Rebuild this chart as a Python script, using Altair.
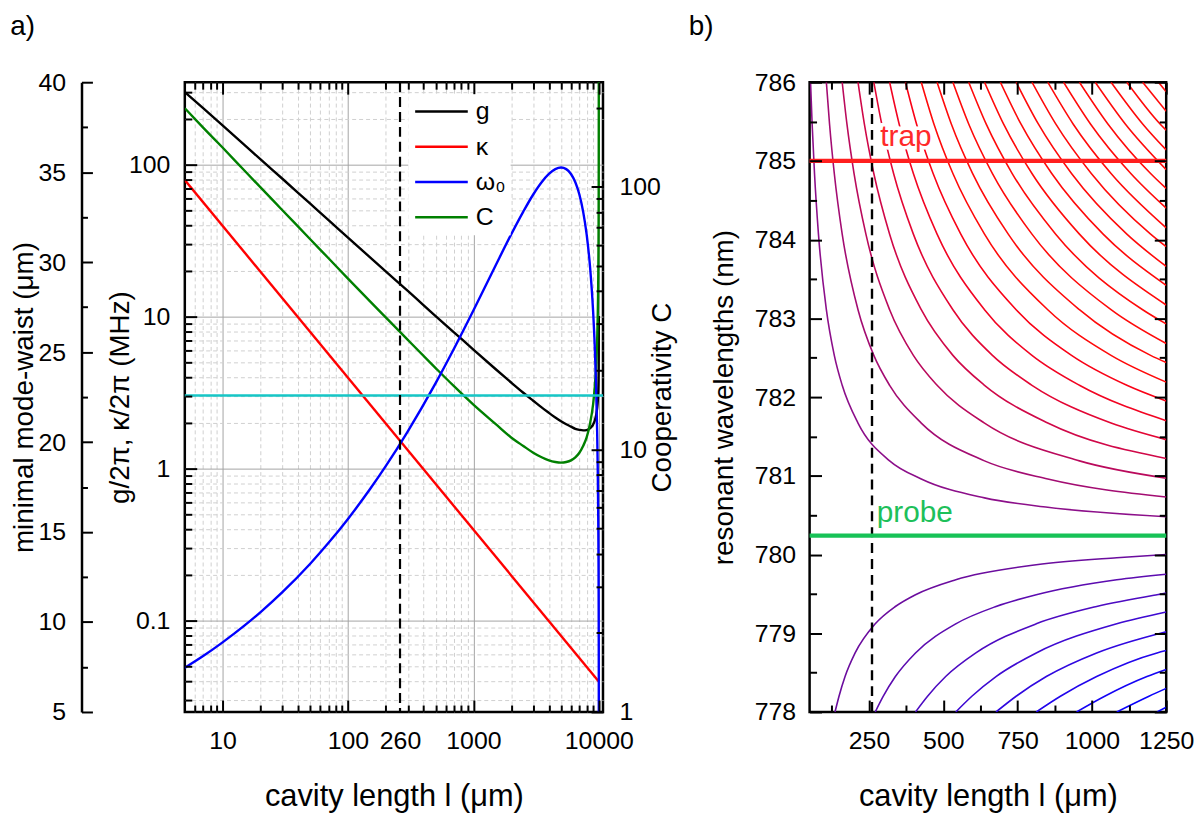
import json
import altair as alt
import pandas as pd

FONT = "Liberation Sans"

# ---------------- panel a) data ----------------
L_a = [5, 7, 10, 15, 20, 30, 50, 70, 100, 150, 200, 300, 500, 700, 1000,
       1500, 2000, 2500, 3000, 3500, 4000, 4500, 5000, 5500, 6000, 6500,
       7000, 7500, 8000, 8500, 9000, 9300, 9500, 9700, 9800, 9900, 9950,
       9980, 9990, 9995, 9999]
g_vals = [301, 236, 182, 135, 109, 81.0, 55.5, 43.3, 33.2, 24.6,
          19.9, 14.8, 10.1, 7.90, 6.08, 4.53, 3.69, 3.16, 2.80, 2.53,
          2.33, 2.17, 2.05, 1.96, 1.89, 1.83, 1.80, 1.785, 1.795, 1.84,
          1.95, 2.08, 2.23, 2.49, 2.73, 3.23, 3.82, 4.80, 5.70, 6.78, 10.1]
C_vals = [199, 168, 141, 115, 99.6, 81.4, 63.1, 53.4, 44.7, 36.6,
          31.8, 26.1, 20.4, 17.4, 14.8, 12.5, 11.1, 10.3, 9.71, 9.33,
          9.08, 8.95, 8.90, 8.95, 9.08, 9.33, 9.71, 10.3, 11.1, 12.5,
          14.8, 17.4, 20.4, 26.1, 31.8, 44.7, 63.1, 99.6, 141, 199, 445]
w0_vals = [7.46, 8.11, 8.87, 9.81, 10.54, 11.66, 13.24, 14.40, 15.73, 17.39,
           18.66, 20.60, 23.28, 25.19, 27.31, 29.80, 31.54, 32.81, 33.76, 34.44,
           34.90, 35.17, 35.26, 35.17, 34.90, 34.44, 33.76, 32.81, 31.54, 29.80,
           27.31, 25.19, 23.28, 20.60, 18.66, 15.73, 13.24, 10.54, 8.87, 7.46, 4.99]
kappa_L = [5, 9990]
kappa_vals = [79.4, 0.0397]
gamma_val = [3.03]
marker_L = [260]
series_names = ["g", "κ", "ω₀", "C"]
series_colors = ["#000000", "#ff0000", "#0000ff", "#008000"]

# tick values, panel a)
xa_major = [10, 100, 1000, 10000]
xa_label = [10, 100, 260, 1000, 10000]
xa_minor = [6, 7, 8, 9, 20, 30, 40, 50, 60, 70, 80, 90, 200, 300, 400, 500,
            600, 700, 800, 900, 2000, 3000, 4000, 5000, 6000, 7000, 8000, 9000]
gk_major = [0.1, 1, 10, 100]
gk_minor = [0.03, 0.04, 0.05, 0.06, 0.07, 0.08, 0.09, 0.2, 0.3, 0.4, 0.5, 0.6,
            0.7, 0.8, 0.9, 2, 3, 4, 5, 6, 7, 8, 9, 20, 30, 40, 50, 60, 70, 80,
            90, 200, 300]
c_major = [1, 10, 100]
c_minor = [2, 3, 4, 5, 6, 7, 8, 9, 20, 30, 40, 50, 60, 70, 80, 90, 200]
w_major = [5, 10, 15, 20, 25, 30, 35, 40]
w_minor = [7.5, 12.5, 17.5, 22.5, 27.5, 32.5, 37.5]

# ---------------- panel b) data ----------------
upper_L = [
    [53.2, 58.5, 66.5, 79.8, 106.4, 133.1, 159.7, 212.9, 319.3, 425.8, 638.6, 851.5, 1250],
    [106.4, 117.1, 133.1, 159.7, 212.9, 266.1, 319.3, 425.8, 638.6, 851.5, 1250],
    [159.7, 175.6, 199.6, 239.5, 319.3, 399.2, 479.0, 638.6, 958.0, 1250],
    [212.9, 234.2, 266.1, 319.3, 425.8, 532.2, 638.6, 851.5, 1250],
    [266.1, 292.7, 332.6, 399.2, 532.2, 665.3, 798.3, 1064.4, 1250],
    [319.3, 351.3, 399.2, 479.0, 638.6, 798.3, 958.0, 1250],
    [372.5, 409.8, 465.7, 558.8, 745.1, 931.4, 1117.6, 1250],
    [425.8, 468.3, 532.2, 638.6, 851.5, 1064.4, 1250],
    [479.0, 526.9, 598.7, 718.5, 958.0, 1197.5, 1250],
    [532.2, 585.4, 665.3, 798.3, 1064.4, 1250],
    [585.4, 644.0, 731.8, 878.2, 1170.8, 1250],
    [638.6, 702.5, 798.3, 958.0, 1250],
    [691.9, 761.1, 864.8, 1037.8, 1250],
    [745.1, 819.6, 931.4, 1117.6, 1250],
    [798.3, 878.2, 997.9, 1197.5, 1250],
    [851.5, 936.7, 1064.4, 1250],
    [904.7, 995.2, 1130.9, 1250],
    [958.0, 1053.8, 1197.5, 1250],
    [1011.2, 1112.3, 1250],
    [1064.4, 1170.8, 1250],
    [1117.6, 1229.4, 1250],
    [1170.8, 1250],
    [1224.1, 1250],
]
upper_lam = [
    [786.00, 785.47, 784.84, 784.07, 783.11, 782.53, 782.15, 781.67, 781.19, 780.96, 780.72, 780.60, 780.48],
    [786.00, 785.47, 784.84, 784.07, 783.11, 782.53, 782.15, 781.67, 781.19, 780.96, 780.73],
    [786.00, 785.47, 784.84, 784.07, 783.11, 782.53, 782.15, 781.67, 781.19, 780.97],
    [786.00, 785.47, 784.84, 784.07, 783.11, 782.53, 782.15, 781.67, 781.22],
    [786.00, 785.47, 784.84, 784.07, 783.11, 782.53, 782.15, 781.67, 781.46],
    [786.00, 785.47, 784.84, 784.07, 783.11, 782.53, 782.15, 781.70],
    [786.00, 785.47, 784.84, 784.07, 783.11, 782.53, 782.15, 781.95],
    [786.00, 785.47, 784.84, 784.07, 783.11, 782.53, 782.19],
    [786.00, 785.47, 784.84, 784.07, 783.11, 782.53, 782.44],
    [786.00, 785.47, 784.84, 784.07, 783.11, 782.68],
    [786.00, 785.47, 784.84, 784.07, 783.11, 782.93],
    [786.00, 785.47, 784.84, 784.07, 783.17],
    [786.00, 785.47, 784.84, 784.07, 783.42],
    [786.00, 785.47, 784.84, 784.07, 783.66],
    [786.00, 785.47, 784.84, 784.07, 783.91],
    [786.00, 785.47, 784.84, 784.15],
    [786.00, 785.47, 784.84, 784.40],
    [786.00, 785.47, 784.84, 784.65],
    [786.00, 785.47, 784.89],
    [786.00, 785.47, 785.14],
    [786.00, 785.47, 785.39],
    [786.00, 785.63],
    [786.00, 785.88],
]
upper_colors = ["#8c0f8a", "#a30c72", "#ba0a5c", "#d00848", "#e30634", "#f20422",
                "#fa0216"] + ["#ff0a0a"] * 16
lower_L = [
    [135.5, 149.0, 169.3, 203.2, 270.9, 338.6, 406.4, 541.8, 812.7, 1083.6, 1250],
    [270.9, 298.0, 338.6, 406.4, 541.8, 677.3, 812.7, 1083.6, 1250],
    [406.4, 447.0, 507.9, 609.5, 812.7, 1015.9, 1219.1, 1250],
    [541.8, 596.0, 677.3, 812.7, 1083.6, 1250],
    [677.3, 745.0, 846.6, 1015.9, 1250],
    [812.7, 894.0, 1015.9, 1219.1, 1250],
    [948.2, 1043.0, 1185.2, 1250],
    [1083.6, 1192.0, 1250],
    [1219.1, 1250],
]
lower_lam = [
    [778.00, 778.20, 778.45, 778.75, 779.12, 779.34, 779.49, 779.68, 779.87, 779.96, 780.00],
    [778.00, 778.20, 778.45, 778.75, 779.12, 779.34, 779.49, 779.68, 779.75],
    [778.00, 778.20, 778.45, 778.75, 779.12, 779.34, 779.49, 779.51],
    [778.00, 778.20, 778.45, 778.75, 779.12, 779.27],
    [778.00, 778.20, 778.45, 778.75, 779.02],
    [778.00, 778.20, 778.45, 778.75, 778.78],
    [778.00, 778.20, 778.45, 778.54],
    [778.00, 778.20, 778.30],
    [778.00, 778.06],
]
lower_colors = ["#6b0d9e", "#5c0cb0", "#4d0bc2", "#3e0ad2", "#3008e0", "#2206ec",
                "#1504f5", "#0a02fb", "#0000ff"]
line_names = ["trap", "probe"]
line_lam = [785.0, 780.24]
line_colors = ["#ff1f1f", "#17c257"]
ann_L = [288, 276]
ann_lam = [785.19, 780.41]
ann_colors = ["#ff2a2a", "#1ec05a"]

bx_major = [250, 500, 750, 1000, 1250]
bx_minor = [125, 375, 625, 875, 1125]
by_major = [778, 779, 780, 781, 782, 783, 784, 785, 786]
by_minor = [778.5, 779.5, 780.5, 781.5, 782.5, 783.5, 784.5, 785.5]

# ---------------- layout constants ----------------
WA, WB, H = 421, 359, 634
TICK_FS, XT_FS, YT_FS = 25, 31, 28
MAJ_GRID, MIN_GRID = "#a4a4a4", "#d0d0d0"


def cond(test, yes, no):
    return {"condition": {"test": test, "value": yes}, "value": no}


def is_in(vals):
    return "indexof(%s, datum.value) >= 0" % json.dumps(vals)


def tick_axis(orient, offset, values, major_test, big=12, small=7):
    return alt.Axis(orient=orient, offset=offset, values=values, ticks=True,
                    tickSize=cond(major_test, big, small), tickWidth=2,
                    tickColor="black", labels=False, domain=False, grid=False,
                    title=None, zindex=1)


# ---------------- panel a) ----------------
xa_scale = alt.Scale(type="log", domain=[5, 10800], nice=False)
gk_scale = alt.Scale(type="log", domain=[0.025, 350], nice=False)
c_scale = alt.Scale(type="log", domain=[1, 250], nice=False)
w_scale = alt.Scale(type="linear", domain=[5, 40], nice=False, zero=False)

xa_all = sorted(xa_minor + xa_label)
xa_ticks = sorted(xa_minor + xa_major)
gk_all = sorted(gk_minor + gk_major)
c_all = sorted(c_minor + c_major)
w_all = sorted(w_minor + w_major)

axis_xa_main = alt.Axis(
    orient="bottom", values=xa_all, ticks=False, tickSize=0, domain=False, grid=True,
    gridColor=cond(is_in(xa_major), MAJ_GRID, MIN_GRID),
    gridDash=cond(is_in(xa_major), [], [4, 3]),
    gridOpacity=cond("datum.value == 260", 0, 1), gridWidth=1,
    labelExpr="%s ? format(datum.value, 'd') : ''" % is_in(xa_label),
    labelFontSize=TICK_FS, labelPadding=17, labelFlush=False, labelOverlap=False,
    title="cavity length l (μm)", titleFontSize=XT_FS, titlePadding=28, zindex=0)
axis_gk_main = alt.Axis(
    orient="left", values=gk_all, ticks=False, tickSize=0, domain=False, grid=True,
    gridColor=cond(is_in(gk_major), MAJ_GRID, MIN_GRID),
    gridDash=cond(is_in(gk_major), [], [4, 3]), gridWidth=1,
    labelExpr="%s ? format(datum.value, '~g') : ''" % is_in(gk_major),
    labelFontSize=TICK_FS, labelPadding=15, labelFlush=False, labelOverlap=False,
    title="g/2π, κ/2π (MHz)", titleFontSize=YT_FS, titlePadding=-6, zindex=0)
axis_c_main = alt.Axis(
    orient="right", values=c_major, ticks=False, tickSize=0, domain=False, grid=False,
    format="d", labelFontSize=TICK_FS, labelPadding=16, labelFlush=False,
    title="Cooperativity C", titleFontSize=YT_FS, titleAngle=270,
    titleBaseline="top", titlePadding=-12, zindex=1)
axis_w_main = alt.Axis(
    orient="left", offset=104, values=w_major, ticks=False, tickSize=0, domain=True,
    domainColor="black", domainWidth=2.5, grid=False, format="d",
    labelFontSize=TICK_FS, labelPadding=16, labelFlush=False,
    title="minimal mode-waist (μm)", titleFontSize=YT_FS, titlePadding=0, zindex=1)

legend_a = alt.Legend(
    title=None, orient="none", legendX=225, legendY=12, symbolType="M-1,0H4",
    symbolSize=449, symbolStrokeWidth=2.5, labelFontSize=25, labelFont=FONT,
    labelColor="black", labelOffset=38, rowPadding=9.5, padding=5,
    fillColor="white", zindex=1)
color_a = alt.Color("s:N", scale=alt.Scale(domain=series_names, range=series_colors),
                    legend=legend_a)

df_k = pd.DataFrame({"L": kappa_L, "v": kappa_vals, "s": "κ"})
df_g = pd.DataFrame({"L": L_a, "v": g_vals, "s": "g"})
df_c = pd.DataFrame({"L": L_a, "v": C_vals, "s": "C"})
df_w = pd.DataFrame({"L": L_a, "v": w0_vals, "s": "ω₀"})
df_gamma = pd.DataFrame({"v": gamma_val})
df_mark = pd.DataFrame({"L": marker_L})

lay_kappa = alt.Chart(df_k).mark_line(strokeWidth=2.4, clip=True).encode(
    x=alt.X("L:Q", scale=xa_scale, axis=axis_xa_main),
    y=alt.Y("v:Q", scale=gk_scale, axis=axis_gk_main),
    color=color_a)
lay_g = alt.Chart(df_g).mark_line(strokeWidth=2.4, clip=True, interpolate="monotone").encode(
    x=alt.X("L:Q", scale=xa_scale, axis=tick_axis("top", -H, xa_ticks, is_in(xa_major))),
    y=alt.Y("v:Q", scale=gk_scale, axis=tick_axis("right", -WA, gk_all, is_in(gk_major))),
    color=color_a)
lay_c = alt.Chart(df_c).mark_line(strokeWidth=2.4, clip=True, interpolate="monotone").encode(
    x=alt.X("L:Q", scale=xa_scale, axis=tick_axis("bottom", -H, xa_ticks, is_in(xa_major))),
    y=alt.Y("v:Q", scale=c_scale, axis=axis_c_main),
    color=color_a)
lay_c_ticks = alt.Chart(df_c).mark_line(opacity=0, clip=True).encode(
    x=alt.X("L:Q", scale=xa_scale, axis=None),
    y=alt.Y("v:Q", scale=c_scale, axis=tick_axis("left", -WA, c_all, is_in(c_major))))
lay_w = alt.Chart(df_w).mark_line(strokeWidth=2.4, clip=True, interpolate="monotone").encode(
    x=alt.X("L:Q", scale=xa_scale, axis=None),
    y=alt.Y("v:Q", scale=w_scale, axis=axis_w_main),
    color=color_a)
lay_w_ticks = alt.Chart(df_w).mark_line(opacity=0, clip=True).encode(
    x=alt.X("L:Q", scale=xa_scale, axis=None),
    y=alt.Y("v:Q", scale=w_scale,
            axis=tick_axis("right", -(WA + 104), w_all, "datum.value % 5 == 0", 11, 6)))
lay_gamma = alt.Chart(df_gamma).mark_rule(color="#16c6c6", strokeWidth=2.4).encode(
    y=alt.Y("v:Q", scale=gk_scale, axis=None))
lay_dash_a = alt.Chart(df_mark).mark_rule(color="black", strokeWidth=2.2,
                                          strokeDash=[10, 5]).encode(
    x=alt.X("L:Q", scale=xa_scale, axis=None))

panel_a = alt.layer(
    lay_kappa, lay_g, lay_c, lay_c_ticks, lay_w, lay_w_ticks, lay_gamma, lay_dash_a
).resolve_scale(x="independent", y="independent").properties(
    width=WA, height=H,
    title=alt.TitleParams("a)", anchor="start", frame="bounds", fontSize=28,
                          font=FONT, fontWeight="normal", color="black", offset=30))

# ---------------- panel b) ----------------
rows = []
for i, (xs, ys) in enumerate(zip(upper_L, upper_lam)):
    for x, y in zip(xs, ys):
        rows.append({"L": x, "lam": y, "id": "u%02d" % i, "col": upper_colors[i]})
for i, (xs, ys) in enumerate(zip(lower_L, lower_lam)):
    for x, y in zip(xs, ys):
        rows.append({"L": x, "lam": y, "id": "l%02d" % i, "col": lower_colors[i]})
df_b = pd.DataFrame(rows)
df_lines = pd.DataFrame({"name": line_names, "lam": line_lam, "c": line_colors})
df_ann = pd.DataFrame({"t": line_names, "L": ann_L, "lam": ann_lam, "c": ann_colors})

bx_scale = alt.Scale(domain=[50, 1250], nice=False, zero=False)
by_scale = alt.Scale(domain=[778, 786], nice=False, zero=False)
bx_all = sorted(bx_major + bx_minor)
by_all = sorted(by_major + by_minor)

axis_bx_main = alt.Axis(
    orient="bottom", values=bx_major, ticks=False, tickSize=0, domain=False, grid=False,
    format="d", labelFontSize=TICK_FS, labelPadding=17, labelFlush=False,
    title="cavity length l (μm)", titleFontSize=XT_FS, titlePadding=28)
axis_by_main = alt.Axis(
    orient="left", values=by_major, ticks=False, tickSize=0, domain=False, grid=False,
    format="d", labelFontSize=TICK_FS, labelPadding=14, labelFlush=False,
    title="resonant wavelengths (nm)", titleFontSize=YT_FS, titlePadding=16)

lay_curves = alt.Chart(df_b).mark_line(strokeWidth=1.6, interpolate="monotone",
                                       clip=True).encode(
    x=alt.X("L:Q", scale=bx_scale, axis=axis_bx_main),
    y=alt.Y("lam:Q", scale=by_scale, axis=axis_by_main),
    detail="id:N", color=alt.Color("col:N", scale=None))
lay_bt1 = alt.Chart(df_b).mark_line(opacity=0, clip=True).encode(
    x=alt.X("L:Q", scale=bx_scale, axis=tick_axis("top", -H, bx_all, "datum.value % 250 == 0")),
    y=alt.Y("lam:Q", scale=by_scale, axis=tick_axis("right", -WB, by_all, "datum.value % 1 == 0")),
    detail="id:N")
lay_bt2 = alt.Chart(df_b).mark_line(opacity=0, clip=True).encode(
    x=alt.X("L:Q", scale=bx_scale, axis=tick_axis("bottom", -H, bx_all, "datum.value % 250 == 0")),
    y=alt.Y("lam:Q", scale=by_scale, axis=tick_axis("left", -WB, by_all, "datum.value % 1 == 0")),
    detail="id:N")
lay_lines = alt.Chart(df_lines).mark_rule(strokeWidth=4.2).encode(
    y=alt.Y("lam:Q", scale=by_scale, axis=None), color=alt.Color("c:N", scale=None))
lay_dash_b = alt.Chart(df_mark).mark_rule(color="black", strokeWidth=2.4,
                                          strokeDash=[10, 6]).encode(
    x=alt.X("L:Q", scale=bx_scale, axis=None))
lay_halo = alt.Chart(df_ann).mark_text(align="left", baseline="alphabetic", fontSize=30,
                                       font=FONT, stroke="white", strokeWidth=7,
                                       fill="white").encode(
    x=alt.X("L:Q", scale=bx_scale, axis=None),
    y=alt.Y("lam:Q", scale=by_scale, axis=None), text="t:N")
lay_text = alt.Chart(df_ann).mark_text(align="left", baseline="alphabetic", fontSize=30,
                                       font=FONT).encode(
    x=alt.X("L:Q", scale=bx_scale, axis=None),
    y=alt.Y("lam:Q", scale=by_scale, axis=None), text="t:N",
    color=alt.Color("c:N", scale=None))

panel_b = alt.layer(
    lay_curves, lay_bt1, lay_bt2, lay_dash_b, lay_lines, lay_halo, lay_text
).resolve_scale(x="independent", y="independent").properties(
    width=WB, height=H,
    title=alt.TitleParams("b)", anchor="start", frame="bounds", fontSize=28,
                          font=FONT, fontWeight="normal", color="black", offset=30,
                          dx=-22))

chart = alt.hconcat(panel_a, panel_b, spacing=10).resolve_scale(
    color="independent").resolve_legend(color="independent").properties(
    padding={"left": 0, "top": 0, "right": 0, "bottom": 0},
    background="white"
).configure_view(stroke="black", strokeWidth=2.5).configure_axis(
    labelFont=FONT, titleFont=FONT, labelColor="black", titleColor="black",
    titleFontWeight="normal", domainColor="black", tickColor="black")

chart.save("out.html", embed_options={"renderer": "svg", "actions": False})
